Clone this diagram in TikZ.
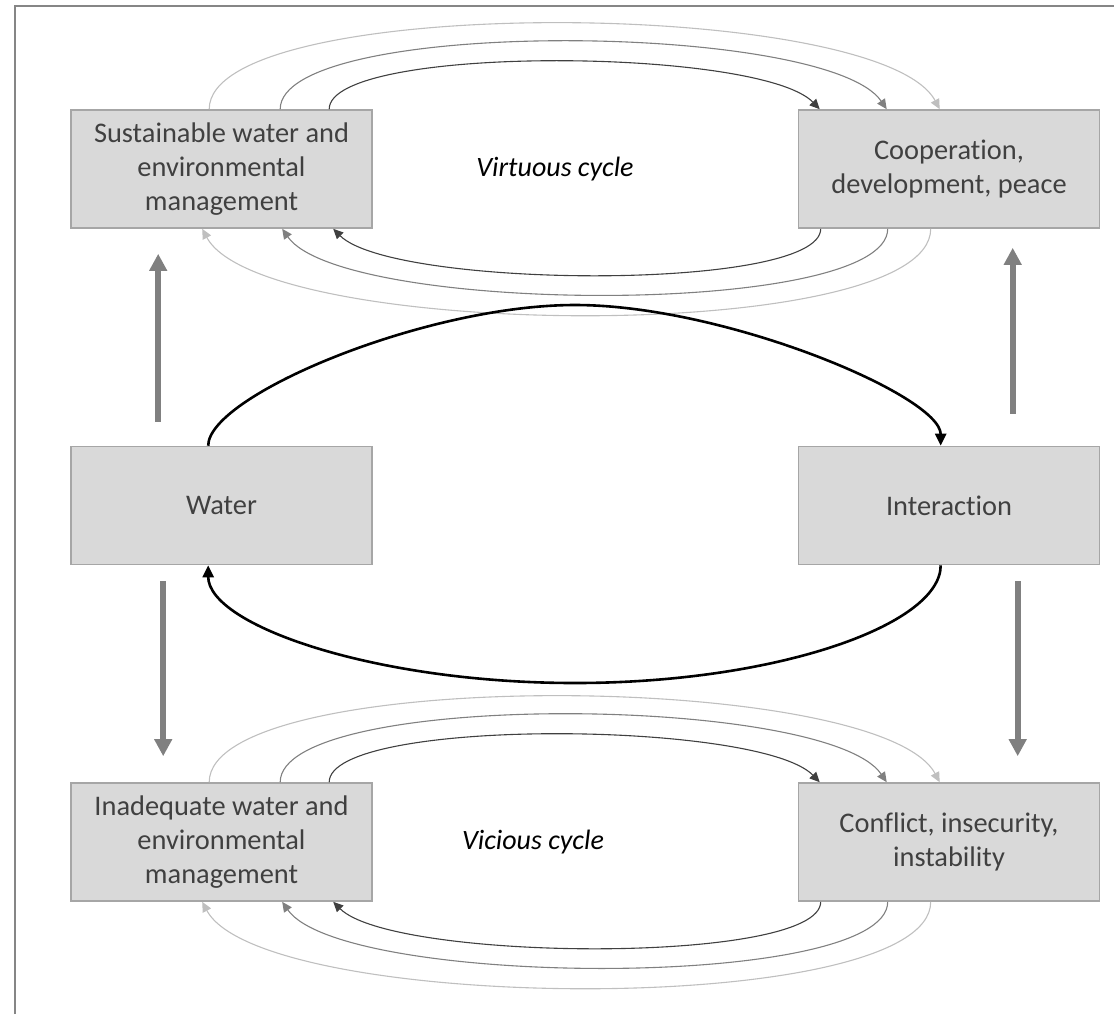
\documentclass[tikz,border=0pt]{standalone}
\usepackage{fontspec}
\setmainfont{Carlito}[Ligatures=NoCommon]
\usetikzlibrary{arrows.meta,calc}

\definecolor{boxfill}{HTML}{D9D9D9}
\definecolor{boxline}{HTML}{A6A6A6}
\definecolor{txt}{HTML}{404040}
\definecolor{arcdark}{HTML}{404040}
\definecolor{arcmid}{HTML}{808080}
\definecolor{arclight}{HTML}{BFBFBF}
\definecolor{flow}{HTML}{808080}
\definecolor{framegray}{HTML}{868686}

\begin{document}
\begin{tikzpicture}[x=0.5pt,y=-0.5pt,
  box/.style={draw=boxline,fill=boxfill,line width=0.8pt,
    minimum width=150.5pt,minimum height=59pt,inner sep=0pt,
    align=center,text=txt,font=\fontsize{14.2}{17.2}\selectfont},
  cyclabel/.style={text=black,font=\fontsize{14}{16}\selectfont\itshape},
  arcbase/.style={line width=0.55pt,-{Triangle[length=5pt,width=4.6pt]}},
  arcdk/.style={arcbase,draw=arcdark},
  arcmd/.style={arcbase,draw=arcmid},
  arclt/.style={arcbase,draw=arclight},
  flowarrow/.style={draw=flow,line width=3pt,-{Triangle[length=8.5pt,width=8.5pt]}},
  loopline/.style={draw=black,line width=1.3pt,-{Triangle[length=6pt,width=5.5pt]}},
  framepen/.style={draw=framegray,line width=1pt}]

\useasboundingbox (0,0) rectangle (1114,1014);

% outer frame (left and top edges)
\draw[framepen] (15,1014) -- (15,6) -- (1114,6);

% boxes
\node[box] (S) at (221.5,169) {Sustainable water and\\environmental\\management};
\node[box] (C) at (949,169) {Cooperation,\\development, peace};
\node[box] (W) at (221.5,505.5) {Water};
\node[box] (I) at (949,505.5) {Interaction};
\node[box] (N) at (221.5,842) {Inadequate water and\\environmental\\management};
\node[box] (F) at (949,842) {Conflict, insecurity,\\instability};

% cycle labels
\node[cyclabel] (vir) at (555,169) {Virtuous cycle};
\node[cyclabel] (vic) at (533,842) {Vicious cycle};

% virtuous cycle: forward arcs over the top
\draw[arclt] ($(S.north west)+(139,0)$) .. controls +(0,-116) and +(-60,-112) .. ($(C.north west)+(142,0)$);
\draw[arcmd] ($(S.north west)+(210,0)$) .. controls +(0,-92) and +(-60,-88) .. ($(C.north west)+(89,0)$);
\draw[arcdk] ($(S.north west)+(259,0)$) .. controls +(0,-65) and +(-60,-62) .. ($(C.north west)+(22,0)$);
% virtuous cycle: return arcs underneath
\draw[arclt] ($(C.south west)+(133,0)$) .. controls +(0,117) and +(60,112) .. ($(S.south west)+(132,0)$);
\draw[arcmd] ($(C.south west)+(90,0)$) .. controls +(0,89) and +(60,86) .. ($(S.south west)+(212,0)$);
\draw[arcdk] ($(C.south west)+(23,0)$) .. controls +(0,63) and +(60,60) .. ($(S.south west)+(263,0)$);

% vicious cycle: forward arcs over the top
\draw[arclt] ($(N.north west)+(139,0)$) .. controls +(0,-116) and +(-60,-112) .. ($(F.north west)+(142,0)$);
\draw[arcmd] ($(N.north west)+(210,0)$) .. controls +(0,-92) and +(-60,-88) .. ($(F.north west)+(89,0)$);
\draw[arcdk] ($(N.north west)+(259,0)$) .. controls +(0,-65) and +(-60,-62) .. ($(F.north west)+(22,0)$);
% vicious cycle: return arcs underneath
\draw[arclt] ($(F.south west)+(133,0)$) .. controls +(0,117) and +(60,112) .. ($(N.south west)+(132,0)$);
\draw[arcmd] ($(F.south west)+(90,0)$) .. controls +(0,89) and +(60,86) .. ($(N.south west)+(212,0)$);
\draw[arcdk] ($(F.south west)+(23,0)$) .. controls +(0,63) and +(60,60) .. ($(N.south west)+(263,0)$);

% vertical flows
\draw[flowarrow] ($(W.north west)+(88,-24)$) -- ($(S.south west)+(88,25)$);
\draw[flowarrow] ($(I.north west)+(215,-32)$) -- ($(C.south west)+(215,19)$);
\draw[flowarrow] ($(W.south west)+(93,16)$) -- ($(N.north west)+(93,-26)$);
\draw[flowarrow] ($(I.south west)+(220,16)$) -- ($(F.north west)+(220,-26)$);

% central loop between water and interaction
\coordinate (looptop) at (575,305);
\coordinate (loopbot) at (575,683);
\draw[loopline] ($(W.north west)+(138,0)$) .. controls +(0,-50) and +(-150,0) .. (looptop)
  .. controls +(150,0) and +(0,-50) .. ($(I.north west)+(143,0)$);
\draw[loopline] ($(I.south west)+(143,0)$) .. controls +(0,60) and +(200,0) .. (loopbot)
  .. controls +(-200,0) and +(0,60) .. ($(W.south west)+(138,0)$);

\end{tikzpicture}
\end{document}
